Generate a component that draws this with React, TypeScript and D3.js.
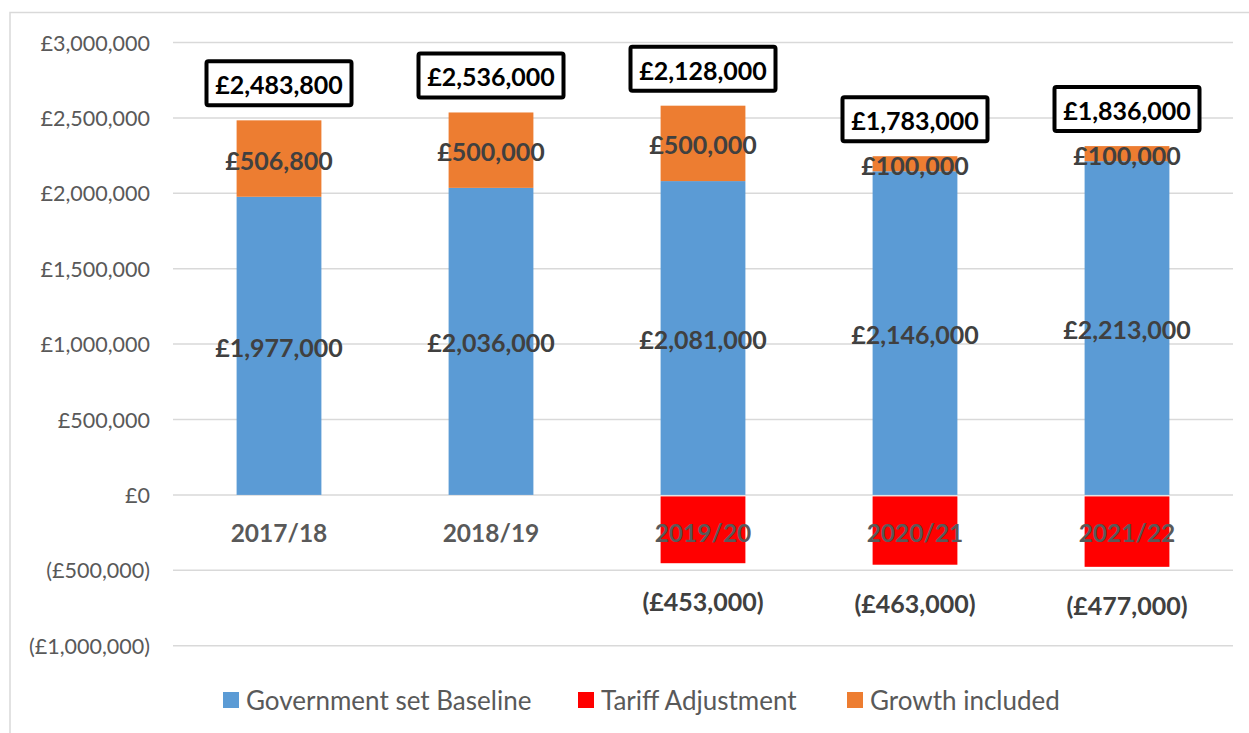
import React from "react";
import * as d3 from "d3";

const categories = ["2017/18", "2018/19", "2019/20", "2020/21", "2021/22"];
const baseline = [1977000, 2036000, 2081000, 2146000, 2213000];
const tariff = [0, 0, -453000, -463000, -477000];
const growth = [506800, 500000, 500000, 100000, 100000];
const totals = [2483800, 2536000, 2128000, 1783000, 1836000];
const yTicks = [-1000000, -500000, 0, 500000, 1000000, 1500000, 2000000, 2500000, 3000000];
const seriesNames = ["Government set Baseline", "Tariff Adjustment", "Growth included"];

const COLORS = { baseline: "#5B9BD5", tariff: "#FF0000", growth: "#ED7D31" };
const FONT = "Lato, 'Open Sans', sans-serif";

const W = 1249;
const H = 733;

const fmtNum = d3.format(",.0f");
const money = (v: number) => (v < 0 ? `(£${fmtNum(-v)})` : `£${fmtNum(v)}`);

export default function App() {
  const x = d3
    .scaleBand<string>()
    .domain(categories)
    .range([173, 1233])
    .paddingInner(0.6)
    .paddingOuter(0.3);
  const y = d3.scaleLinear().domain([-1000000, 3000000]).range([645.7, 42.5]);
  const bw = x.bandwidth();

  const legendItems = [
    { name: seriesNames[0], color: COLORS.baseline, x: 223 },
    { name: seriesNames[1], color: COLORS.tariff, x: 578 },
    { name: seriesNames[2], color: COLORS.growth, x: 847 },
  ];

  return (
    <svg
      width={W}
      height={H}
      style={{ position: "fixed", left: 0, top: 0, background: "#fff" }}
      fontFamily={FONT}
    >
      {/* chart frame */}
      <path d={`M10,${H} V12.5 H${W}`} fill="none" stroke="#D9D9D9" strokeWidth={1.5} />

      {/* gridlines */}
      {yTicks.map((t) => (
        <line key={t} x1={173} x2={1233} y1={y(t)} y2={y(t)} stroke="#D9D9D9" strokeWidth={1.5} />
      ))}

      {/* y tick labels */}
      {yTicks.map((t) => (
        <text
          key={"l" + t}
          x={150}
          y={y(t)}
          textAnchor="end"
          dominantBaseline="central"
          fontSize={21.5}
          fill="#595959"
        >
          {money(t)}
        </text>
      ))}

      {/* bars */}
      {categories.map((c, i) => {
        const x0 = x(c)!;
        const b = baseline[i];
        const g = growth[i];
        const t = tariff[i];
        return (
          <g key={c}>
            <rect x={x0} y={y(b)} width={bw} height={y(0) - y(b)} fill={COLORS.baseline} />
            <rect x={x0} y={y(b + g)} width={bw} height={y(b) - y(b + g)} fill={COLORS.growth} />
            {t < 0 && (
              <rect x={x0} y={y(0) + 1.5} width={bw} height={y(t) - y(0) - 1.5} fill={COLORS.tariff} />
            )}
          </g>
        );
      })}

      {/* category labels */}
      {categories.map((c) => (
        <text
          key={"c" + c}
          x={x(c)! + bw / 2}
          y={532}
          textAnchor="middle"
          dominantBaseline="central"
          fontSize={24.5}
          fontWeight="bold"
          fill="#595959"
        >
          {c}
        </text>
      ))}

      {/* segment labels */}
      {categories.map((c, i) => {
        const cx = x(c)! + bw / 2;
        const b = baseline[i];
        const g = growth[i];
        const t = tariff[i];
        return (
          <g key={"s" + c} fontSize={25} fontWeight="bold" fill="#404040" textAnchor="middle">
            <text x={cx} y={y(b / 2) + 1} dominantBaseline="central">
              {money(b)}
            </text>
            <text x={cx} y={y(b + g / 2) + 1} dominantBaseline="central">
              {money(g)}
            </text>
            {t < 0 && (
              <text x={cx} y={y(t) + 38} dominantBaseline="central">
                {money(t)}
              </text>
            )}
          </g>
        );
      })}

      {/* total boxes */}
      {categories.map((c, i) => {
        const cx = x(c)! + bw / 2;
        const top = y(baseline[i] + growth[i]);
        const cy = top - 37;
        const bwid = 145;
        const bh = 44;
        return (
          <g key={"t" + c}>
            <rect
              x={cx - bwid / 2}
              y={cy - bh / 2}
              width={bwid}
              height={bh}
              rx={2}
              fill="#fff"
              stroke="#000"
              strokeWidth={4}
            />
            <text
              x={cx}
              y={cy + 1}
              textAnchor="middle"
              dominantBaseline="central"
              fontSize={25}
              fontWeight="bold"
              fill="#000"
            >
              {money(totals[i])}
            </text>
          </g>
        );
      })}

      {/* legend */}
      {legendItems.map((it) => (
        <g key={it.name}>
          <rect x={it.x} y={692} width={16} height={16} fill={it.color} />
          <text x={it.x + 23} y={700} dominantBaseline="central" fontSize={26} fill="#595959">
            {it.name}
          </text>
        </g>
      ))}
    </svg>
  );
}
